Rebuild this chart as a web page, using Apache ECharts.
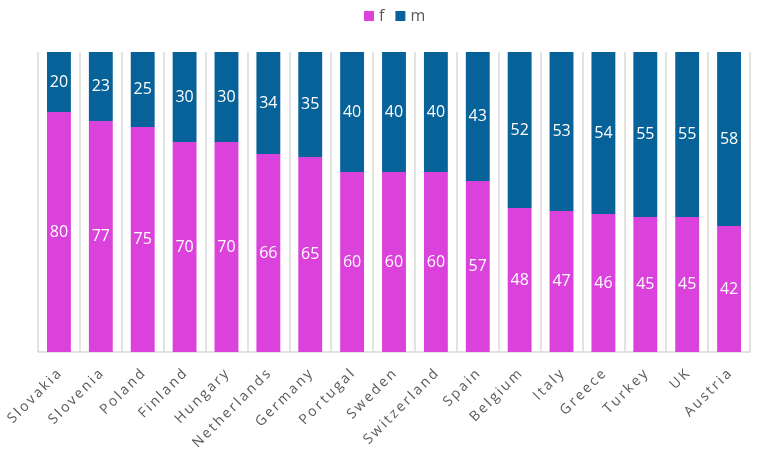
<!DOCTYPE html>
<html lang="en">
<head>
    <meta charset="UTF-8">
    <script src="https://cdn.jsdelivr.net/npm/echarts@6/dist/echarts.min.js"></script>
    <title>f / m</title>
    <style>
        html, body { margin: 0; padding: 0; background: #fff; }
        #main { width: 767px; height: 460px; }
    </style>
</head>
<body>
    <div id="main"></div>
    <script>
        var countries = ['Slovakia', 'Slovenia', 'Poland', 'Finland', 'Hungary', 'Netherlands', 'Germany',
            'Portugal', 'Sweden', 'Switzerland', 'Spain', 'Belgium', 'Italy', 'Greece', 'Turkey', 'UK', 'Austria'];
        var fValues = [80, 77, 75, 70, 70, 66, 65, 60, 60, 60, 57, 48, 47, 46, 45, 45, 42];
        var mValues = [20, 23, 25, 30, 30, 34, 35, 40, 40, 40, 43, 52, 53, 54, 55, 55, 58];

        var chart = echarts.init(document.getElementById('main'));
        var barLabel = {
            show: true,
            position: 'inside',
            color: '#fff',
            fontSize: 16,
            fontFamily: 'Open Sans'
        };
        var option = {
            animation: false,
            legend: {
                top: 3,
                left: 359,
                itemWidth: 10,
                itemHeight: 10,
                itemGap: 11,
                icon: 'rect',
                textStyle: { color: '#595959', fontSize: 16, fontFamily: 'Open Sans' },
                data: ['f', 'm']
            },
            grid: { left: 38, right: 17, top: 52, bottom: 108 },
            xAxis: {
                type: 'category',
                data: countries,
                axisTick: { show: false },
                axisLine: { lineStyle: { color: '#d9d9d9', width: 1.5 } },
                splitLine: { show: true, lineStyle: { color: '#d9d9d9', width: 1.5 } },
                axisLabel: {
                    interval: 0,
                    rotate: 45,
                    margin: 20,
                    color: '#595959',
                    fontSize: 14,
                    fontFamily: 'Open Sans',
                    formatter: function (v) {
                        return v.split('').join('\u2009');
                    }
                }
            },
            yAxis: {
                type: 'value',
                min: 0,
                max: 100,
                show: false
            },
            series: [
                {
                    name: 'f',
                    type: 'bar',
                    stack: 'total',
                    barWidth: '57%',
                    itemStyle: { color: '#db41db' },
                    label: barLabel,
                    data: fValues
                },
                {
                    name: 'm',
                    type: 'bar',
                    stack: 'total',
                    barWidth: '57%',
                    itemStyle: { color: '#066298' },
                    label: barLabel,
                    data: mValues
                }
            ]
        };
        chart.setOption(option);
    </script>
</body>
</html>
